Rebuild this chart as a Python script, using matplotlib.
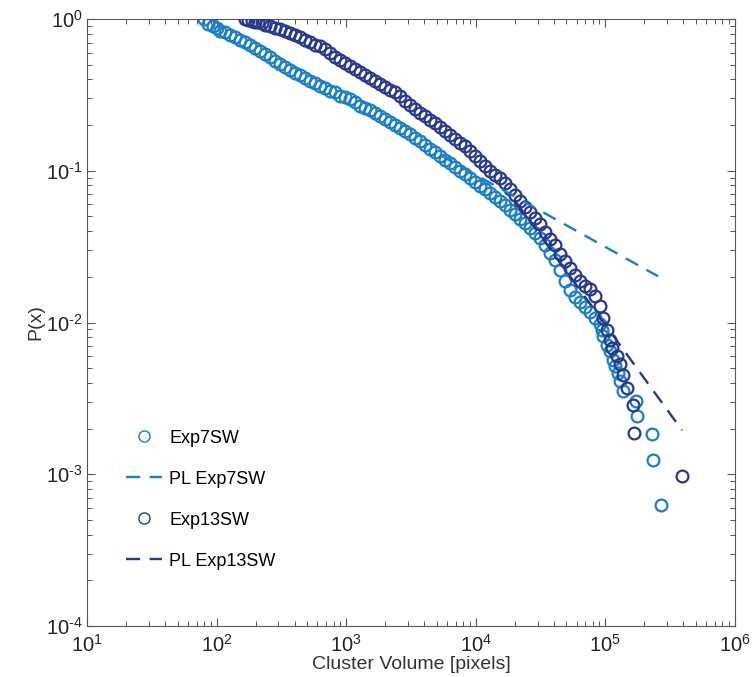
import numpy as np
import matplotlib
matplotlib.use('Agg')
import matplotlib.pyplot as plt
from matplotlib import font_manager
from matplotlib.ticker import FuncFormatter

# Exp7SW cumulative distribution (cluster volume, P(x))
exp7X = [80, 85.8, 93.8, 100.7, 106.2, 116, 127, 139, 152, 166, 181, 198, 216, 236, 258, 282, 308, 337, 368, 402,
         440, 481, 525, 574, 627, 686, 749, 819, 895, 978, 1069, 1168, 1277, 1395, 1525, 1667, 1822, 1991, 2176, 2378,
         2599, 2840, 3104, 3393, 3708, 4052, 4429, 4840, 5290, 5781, 6318, 6905, 7547, 8248, 9014, 9852, 10770, 11770,
         12860, 14060, 15360, 16790, 18350, 20050, 21920, 23950, 26180, 28610, 31260, 34170, 37340, 40810, 44600,
         48750, 53270, 58220, 63630, 69540, 76000, 83060, 90780, 94170, 95840, 102900, 108500, 114500, 118600,
         125100, 129600, 136700, 172200, 175300, 228800, 232900, 268500]
exp7P = [1.0, 0.927, 0.900, 0.873, 0.835, 0.822, 0.786, 0.763, 0.729, 0.707, 0.676, 0.646, 0.617, 0.590, 0.564,
         0.531, 0.508, 0.485, 0.464, 0.443, 0.430, 0.411, 0.393, 0.381, 0.364, 0.353, 0.338, 0.328, 0.313, 0.304,
         0.295, 0.282, 0.269, 0.261, 0.250, 0.239, 0.228, 0.218, 0.209, 0.199, 0.191, 0.182, 0.174, 0.164, 0.157,
         0.147, 0.139, 0.133, 0.125, 0.118, 0.112, 0.106, 0.0996, 0.0952, 0.0897, 0.0844, 0.0794, 0.0760, 0.0715,
         0.0673, 0.0634, 0.0597, 0.0553, 0.0521, 0.0483, 0.0455, 0.0422, 0.0391, 0.0363, 0.0322, 0.0289, 0.0257,
         0.0221, 0.0187, 0.0163, 0.0147, 0.0136, 0.0126, 0.0117, 0.0107, 0.00978, 0.00893, 0.00816, 0.00712,
         0.00651, 0.00568, 0.00519, 0.00467, 0.00414, 0.00356, 0.00302, 0.00241, 0.00183, 0.00124, 0.000629]

# Exp13SW cumulative distribution
exp13X = [166, 175, 188, 198, 209, 224, 236, 258, 282, 308, 337, 368, 402, 440, 481, 525, 574, 627, 686, 749, 819,
          895, 978, 1069, 1168, 1277, 1395, 1525, 1667, 1822, 1991, 2176, 2378, 2599, 2840, 3104, 3393, 3708, 4052,
          4429, 4840, 5290, 5781, 6318, 6905, 7547, 8248, 9014, 9852, 10770, 11770, 12860, 14060, 15360, 16790,
          18350, 20050, 21920, 23950, 26180, 28610, 31260, 34170, 37340, 40810, 44600, 48750, 53270, 58220, 63630,
          69540, 76000, 83060, 90780, 95840, 102900, 108500, 112400, 122900, 129600, 136700, 146800, 163300,
          166200, 389900]
exp13P = [1.0, 0.98, 0.97, 0.96, 0.95, 0.94, 0.914, 0.900, 0.873, 0.860, 0.835, 0.810, 0.786, 0.763, 0.729, 0.707,
          0.676, 0.666, 0.636, 0.599, 0.564, 0.539, 0.515, 0.492, 0.471, 0.450, 0.430, 0.411, 0.393, 0.375, 0.359,
          0.343, 0.328, 0.309, 0.290, 0.273, 0.257, 0.242, 0.228, 0.215, 0.205, 0.193, 0.182, 0.171, 0.161, 0.152,
          0.145, 0.135, 0.125, 0.116, 0.107, 0.0996, 0.0938, 0.0897, 0.0831, 0.0760, 0.0694, 0.0634, 0.0579, 0.0537,
          0.0491, 0.0448, 0.0397, 0.0357, 0.0322, 0.0285, 0.0253, 0.0227, 0.0205, 0.0187, 0.0173, 0.0166, 0.0149,
          0.0128, 0.0107, 0.00893, 0.00768, 0.00681, 0.00604, 0.00535, 0.00453, 0.00372, 0.00284, 0.00186, 0.000974]

# power law fits: xmin, xmax, P(xmin), alpha
fit7 = {'xmin': 5300, 'xmax': 2.55e5, 'pmin': 0.127, 'alpha': 1.475}
fit13 = {'xmin': 2.0e4, 'xmax': 3.9e5, 'pmin': 0.0638, 'alpha': 2.174}

labels = ['Exp7SW', 'PL Exp7SW', 'Exp13SW', 'PL Exp13SW']

color7 = '#1a7fc6'
color13 = '#28388f'

installed = set(f.name for f in font_manager.fontManager.ttflist)
narrowFont = 'Liberation Sans Narrow' if 'Liberation Sans Narrow' in installed else 'Liberation Sans'
plt.rcParams['font.family'] = ['Liberation Sans', 'DejaVu Sans']


def powerLaw(fit):
    x = np.logspace(np.log10(fit['xmin']), np.log10(fit['xmax']), 60)
    return x, fit['pmin'] * (x / fit['xmin']) ** (1 - fit['alpha'])


def decadeLabel(v, pos):
    e = int(round(np.log10(v)))
    s = str(e).replace('-', '\u2010')
    return '$\\mathdefault{10^{%s}}$' % s


fig = plt.figure(figsize=(7.52, 6.77), dpi=100)
ax = fig.add_axes([0.1157, 0.0753, 0.8617, 0.8966])

h1, = ax.plot(exp7X, exp7P, 'o', mfc='none', mec=color7, ms=8.5, mew=1.6, ls='none', zorder=2)
h3, = ax.plot(exp13X, exp13P, 'o', mfc='none', mec=color13, ms=8.5, mew=1.6, ls='none', zorder=3)
px, py = powerLaw(fit7)
h2, = ax.plot(px, py, '--', color=color7, lw=1.7, dashes=(6, 4), zorder=4)
px, py = powerLaw(fit13)
h4, = ax.plot(px, py, '--', color=color13, lw=1.7, dashes=(6, 4), zorder=5)

ax.set_xscale('log')
ax.set_yscale('log')
ax.set_xlim(1e1, 1e6)
ax.set_ylim(1e-4, 1e0)
ax.xaxis.set_major_formatter(FuncFormatter(decadeLabel))
ax.yaxis.set_major_formatter(FuncFormatter(decadeLabel))

ax.set_xlabel('Cluster Volume [pixels]', fontsize=14, family=narrowFont, color='#333333', labelpad=0)
ax.set_ylabel('P(x)', fontsize=14, family=narrowFont, color='#333333', labelpad=1)

ax.tick_params(which='both', direction='in', top=True, right=True, colors='#555555', labelcolor='#222222')
ax.tick_params(which='major', length=6, width=0.8, labelsize=14.5, pad=3)
ax.tick_params(axis='x', which='major', pad=6)
ax.tick_params(which='minor', length=3.5, width=0.7)
for lab in ax.get_xticklabels() + ax.get_yticklabels():
    lab.set_family(narrowFont)
for s in ax.spines.values():
    s.set_color('#555555')
    s.set_linewidth(0.8)

leg = ax.legend([h1, h2, h3, h4], labels, loc='upper left', bbox_to_anchor=(0.06, 0.3235), frameon=False,
                fontsize=13, handlelength=2.0, handletextpad=0.4, labelspacing=1.33, borderpad=0, borderaxespad=0)
for lh in leg.legend_handles[0::2]:
    lh.set_markeredgewidth(1.0)
    lh.set_markersize(8)

fig.savefig('out.png', dpi=100)
